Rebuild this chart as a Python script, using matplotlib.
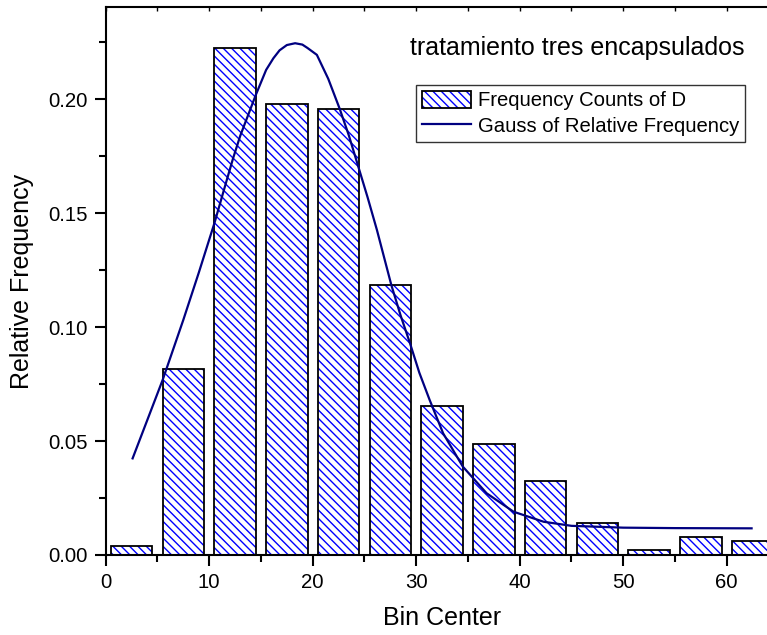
import numpy as np
import matplotlib
matplotlib.use("Agg")
from matplotlib import pyplot as plt
from matplotlib.legend_handler import HandlerTuple

plt.rcParams["font.family"] = ["Liberation Sans", "DejaVu Sans"]
plt.rcParams["hatch.linewidth"] = 1.0

# Histogramm (Bin-Mitten und relative Häufigkeiten)
bin_centers = [2.5, 7.5, 12.5, 17.5, 22.5, 27.5, 32.5, 37.5, 42.5, 47.5, 52.5, 57.5, 62.5]
rel_freq = [0.0040, 0.0815, 0.2224, 0.1980, 0.1959, 0.1184, 0.0653, 0.0489,
            0.0326, 0.0140, 0.0022, 0.0079, 0.0061]

# Gauss-Kurve, Punkte
gauss_x = [2.6, 4.0, 5.5, 7.5, 9.0, 10.5, 11.7, 12.3, 13.0, 14.5, 15.5, 16.2,
           16.8, 17.5, 18.3, 19.0, 19.5, 20.4, 21.5, 22.6, 23.5, 24.4, 25.3,
           26.2, 27.6, 28.5, 29.4, 30.3, 31.3, 32.6, 34.5, 36.8, 39.4, 42.3,
           45.0, 50.0, 55.0, 62.4]
gauss_y = [0.0424, 0.059, 0.0768, 0.1032, 0.124, 0.1456, 0.1646, 0.174, 0.184,
           0.2019, 0.2129, 0.2180, 0.2215, 0.2238, 0.2246, 0.2240, 0.2225, 0.2195,
           0.209, 0.1959, 0.184, 0.1705, 0.157, 0.1427, 0.1184, 0.105, 0.0929,
           0.080, 0.068, 0.0534, 0.0388, 0.0271, 0.019, 0.0146, 0.0128, 0.0120,
           0.0118, 0.0117]

fig = plt.figure(figsize=(7.67, 6.35), dpi=100)
ax_w = (778.5 - 105.7) / 767
ax = fig.add_axes([105.7 / 767, 80 / 635, ax_w, 548 / 635])

bars_hatch = ax.bar(bin_centers, rel_freq, width=4, color="white",
                    edgecolor="blue", hatch="\\\\\\\\", linewidth=0, zorder=2)
bars_edge = ax.bar(bin_centers, rel_freq, width=4, fill=False,
                   edgecolor="black", linewidth=1.3, zorder=3)
line, = ax.plot(gauss_x, gauss_y, color="#000080", linewidth=1.6, zorder=4)

ax.set_xlim(0, 65)
ax.set_ylim(0, 0.2405)
ax.set_xticks(np.arange(0, 61, 10))
ax.set_xticks(np.arange(5, 66, 10), minor=True)
ax.set_yticks(np.arange(0, 0.21, 0.05))
ax.set_yticks(np.arange(0.025, 0.24, 0.05), minor=True)
ax.set_yticklabels([f"{v:.2f}" for v in np.arange(0, 0.21, 0.05)])

for s in ax.spines.values():
    s.set_linewidth(1.5)
ax.spines["top"].set_visible(False)
ax.tick_params(which="major", direction="out", length=8, width=1.5,
               labelsize=14.7, pad=5)
ax.tick_params(which="minor", direction="out", length=5, width=1.5)

top = ax.secondary_xaxis("top")
top.set_xticks(np.arange(0, 66, 5))
top.tick_params(direction="in", length=3, width=1.0, labeltop=False)
top.spines["top"].set_linewidth(1.5)

ax.set_xlabel("Bin Center", fontsize=18, labelpad=10)
ax.set_ylabel("Relative Frequency", fontsize=18, labelpad=10)

ax.text((577 - 105.7) / (778.5 - 105.7), (555 - 48) / (555 - 7),
        "tratamiento tres encapsulados",
        transform=ax.transAxes, ha="center", va="center", fontsize=18)

leg = ax.legend([(bars_hatch[0], bars_edge[0]), line],
                ["Frequency Counts of D", "Gauss of Relative Frequency"],
                handler_map={tuple: HandlerTuple(ndivide=1, pad=0)},
                loc="upper left",
                bbox_to_anchor=((416 - 105.7) / (778.5 - 105.7), (555 - 85) / (555 - 7)),
                fontsize=14.6, frameon=True, fancybox=False, borderpad=0.3,
                handlelength=2.4, handleheight=0.9, handletextpad=0.35,
                labelspacing=0.3, borderaxespad=0)
leg.get_frame().set_edgecolor("black")
leg.get_frame().set_linewidth(1.0)

fig.savefig("out.png", dpi=100)
